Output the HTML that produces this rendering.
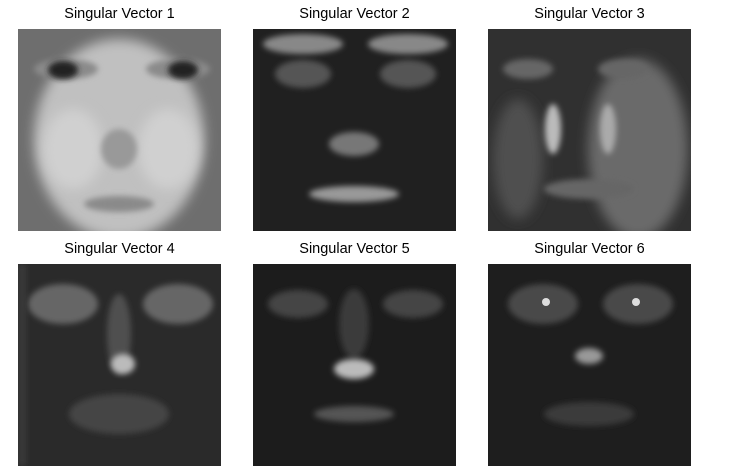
<!DOCTYPE html>
<html><head><meta charset="utf-8">
<style>
body{margin:0;background:#fff;width:747px;height:476px;overflow:hidden;font-family:"Liberation Sans",sans-serif;}
.t{position:absolute;font-size:14.5px;color:#000;text-align:center;width:203px;}
svg{position:absolute;left:0;top:0;}
</style></head><body>
<div class="t" style="left:18px;top:6px">Singular Vector 1</div>
<div class="t" style="left:253px;top:6px">Singular Vector 2</div>
<div class="t" style="left:488px;top:6px">Singular Vector 3</div>
<div class="t" style="left:18px;top:241px">Singular Vector 4</div>
<div class="t" style="left:253px;top:241px">Singular Vector 5</div>
<div class="t" style="left:488px;top:241px">Singular Vector 6</div>
<svg width="747" height="476">
<defs>
<filter id="b" x="-20%" y="-20%" width="140%" height="140%"><feGaussianBlur stdDeviation="6"/></filter>
<filter id="s" x="-50%" y="-50%" width="200%" height="200%"><feGaussianBlur stdDeviation="3"/></filter>
<clipPath id="c"><rect width="203" height="202"/></clipPath>
</defs>
<g transform="translate(18,29)" clip-path="url(#c)">
<rect width="203" height="202" fill="#6e6e6e"/>
<ellipse cx="101" cy="110" rx="85" ry="100" fill="#c0c0c0" filter="url(#b)"/>
<ellipse cx="55" cy="120" rx="30" ry="40" fill="#d0d0d0" filter="url(#b)"/>
<ellipse cx="150" cy="120" rx="30" ry="40" fill="#d0d0d0" filter="url(#b)"/>
<ellipse cx="48" cy="40" rx="32" ry="10" fill="#8a8a8a" filter="url(#s)"/>
<ellipse cx="160" cy="40" rx="32" ry="10" fill="#8a8a8a" filter="url(#s)"/>
<ellipse cx="45" cy="41" rx="15" ry="9" fill="#222" filter="url(#s)"/>
<ellipse cx="165" cy="41" rx="15" ry="9" fill="#222" filter="url(#s)"/>
<ellipse cx="101" cy="120" rx="18" ry="20" fill="#999" filter="url(#s)"/>
<ellipse cx="101" cy="175" rx="35" ry="8" fill="#8a8a8a" filter="url(#s)"/>
</g>
<g transform="translate(253,29)" clip-path="url(#c)">
<rect width="203" height="202" fill="#202020"/>
<ellipse cx="50" cy="15" rx="40" ry="10" fill="#888" filter="url(#s)"/>
<ellipse cx="155" cy="15" rx="40" ry="10" fill="#888" filter="url(#s)"/>
<ellipse cx="50" cy="45" rx="28" ry="14" fill="#555" filter="url(#s)"/>
<ellipse cx="155" cy="45" rx="28" ry="14" fill="#555" filter="url(#s)"/>
<ellipse cx="101" cy="115" rx="25" ry="12" fill="#777" filter="url(#s)"/>
<ellipse cx="101" cy="165" rx="45" ry="8" fill="#999" filter="url(#s)"/>
</g>
<g transform="translate(488,29)" clip-path="url(#c)">
<rect width="203" height="202" fill="#303030"/>
<ellipse cx="150" cy="120" rx="50" ry="90" fill="#6a6a6a" filter="url(#b)"/>
<ellipse cx="30" cy="130" rx="25" ry="60" fill="#505050" filter="url(#b)"/>
<ellipse cx="40" cy="40" rx="25" ry="10" fill="#666" filter="url(#s)"/>
<ellipse cx="135" cy="40" rx="25" ry="10" fill="#666" filter="url(#s)"/>
<ellipse cx="65" cy="100" rx="8" ry="25" fill="#bbb" filter="url(#s)"/>
<ellipse cx="120" cy="100" rx="8" ry="25" fill="#aaa" filter="url(#s)"/>
<ellipse cx="101" cy="160" rx="45" ry="10" fill="#666" filter="url(#s)"/>
</g>
<g transform="translate(18,264)" clip-path="url(#c)">
<rect width="203" height="202" fill="#2a2a2a"/>
<ellipse cx="45" cy="40" rx="35" ry="20" fill="#666" filter="url(#s)"/>
<ellipse cx="160" cy="40" rx="35" ry="20" fill="#666" filter="url(#s)"/>
<ellipse cx="101" cy="70" rx="12" ry="40" fill="#505050" filter="url(#s)"/>
<ellipse cx="105" cy="100" rx="12" ry="10" fill="#bbb" filter="url(#s)"/>
<ellipse cx="101" cy="150" rx="50" ry="20" fill="#444" filter="url(#s)"/>
<rect width="8" height="202" fill="#3a3a3a" filter="url(#s)"/>
</g>
<g transform="translate(253,264)" clip-path="url(#c)">
<rect width="203" height="202" fill="#1c1c1c"/>
<ellipse cx="45" cy="40" rx="30" ry="14" fill="#444" filter="url(#s)"/>
<ellipse cx="160" cy="40" rx="30" ry="14" fill="#444" filter="url(#s)"/>
<ellipse cx="101" cy="60" rx="15" ry="35" fill="#3a3a3a" filter="url(#s)"/>
<ellipse cx="101" cy="105" rx="20" ry="10" fill="#bbb" filter="url(#s)"/>
<ellipse cx="101" cy="150" rx="40" ry="8" fill="#555" filter="url(#s)"/>
</g>
<g transform="translate(488,264)" clip-path="url(#c)">
<rect width="203" height="202" fill="#1e1e1e"/>
<ellipse cx="55" cy="40" rx="35" ry="20" fill="#4a4a4a" filter="url(#s)"/>
<ellipse cx="150" cy="40" rx="35" ry="20" fill="#4a4a4a" filter="url(#s)"/>
<circle cx="58" cy="38" r="4" fill="#ddd"/>
<circle cx="148" cy="38" r="4" fill="#ddd"/>
<ellipse cx="101" cy="92" rx="14" ry="8" fill="#999" filter="url(#s)"/>
<ellipse cx="101" cy="150" rx="45" ry="12" fill="#3a3a3a" filter="url(#s)"/>
</g>
</svg>
</body></html>
